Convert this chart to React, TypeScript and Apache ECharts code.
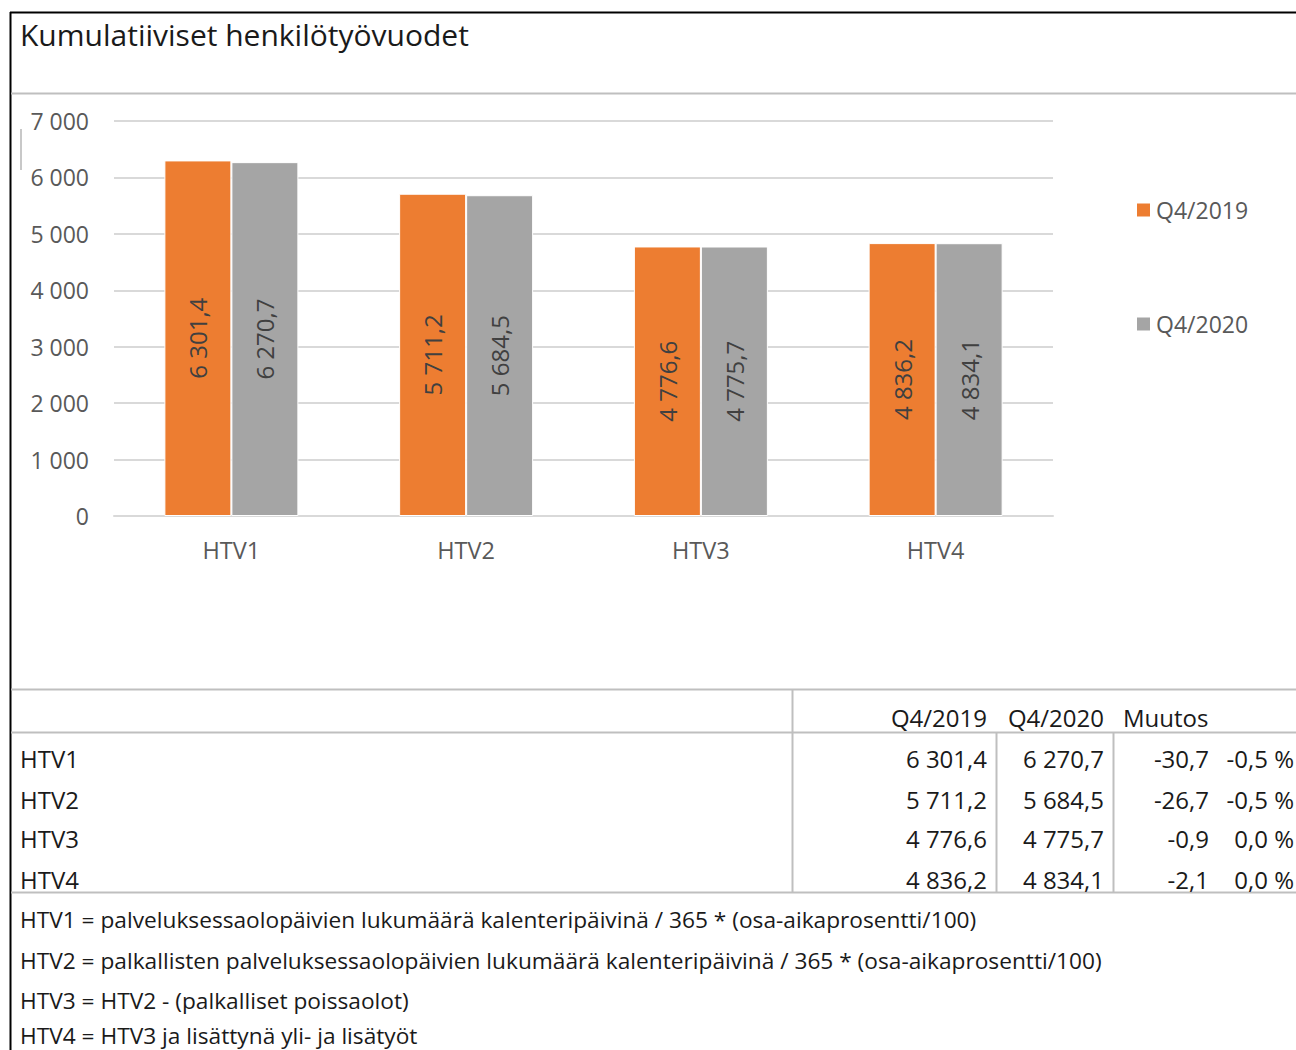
import React, { useEffect, useRef } from "react";
import * as echarts from "echarts";

const categories = ["HTV1", "HTV2", "HTV3", "HTV4"];
const seriesNames = ["Q4/2019", "Q4/2020"];
const values2019 = [6301.4, 5711.2, 4776.6, 4836.2];
const values2020 = [6270.7, 5684.5, 4775.7, 4834.1];
const yTicks = { min: 0, max: 7000, interval: 1000 };
const footnotes = [
  "HTV1 = palveluksessaolopäivien lukumäärä kalenteripäivinä / 365 * (osa-aikaprosentti/100)",
  "HTV2 = palkallisten palveluksessaolopäivien lukumäärä kalenteripäivinä / 365 * (osa-aikaprosentti/100)",
  "HTV3 = HTV2 - (palkalliset poissaolot)",
  "HTV4 = HTV3 ja lisättynä yli- ja lisätyöt",
];
const title = "Kumulatiiviset henkilötyövuodet";
const changeHeader = "Muutos";

const ORANGE = "#ED7D31";
const GRAY = "#A5A5A5";
const FONT = "'Open Sans', 'Noto Sans', sans-serif";
const LINE = "#BFBFBF";

// Finnish number style: space as thousands separator, comma as decimal mark
function fmt(v: number, digits = 1): string {
  let r = Math.round(v * Math.pow(10, digits)) / Math.pow(10, digits);
  if (Object.is(r, -0) || r === 0) r = 0;
  const s = r.toFixed(digits);
  const [intPart, dec] = s.split(".");
  const neg = intPart.startsWith("-");
  const digitsOnly = neg ? intPart.slice(1) : intPart;
  const grouped = digitsOnly.replace(/\B(?=(\d{3})+(?!\d))/g, " ");
  return (neg ? "-" : "") + grouped + (dec !== undefined ? "," + dec : "");
}

function hline(x1: number, x2: number, y: number, color: string, w: number) {
  return { type: "line", shape: { x1, y1: y, x2, y2: y }, style: { stroke: color, lineWidth: w }, silent: true };
}
function vline(x: number, y1: number, y2: number, color: string, w: number) {
  return { type: "line", shape: { x1: x, y1, x2: x, y2 }, style: { stroke: color, lineWidth: w }, silent: true };
}
function txt(x: number, y: number, text: string, align: string, size = 24, color = "#1A1A1A") {
  return {
    type: "text",
    x,
    y,
    silent: true,
    style: { text, fill: color, font: `${size}px ${FONT}`, align, verticalAlign: "middle" },
  };
}

export default function App() {
  const ref = useRef<HTMLDivElement>(null);

  useEffect(() => {
    if (!ref.current) return;
    const chart = echarts.init(ref.current, null, { renderer: "svg" });

    const graphics: any[] = [];
    // outer frame
    graphics.push(hline(10, 1296, 12.5, "#000", 2));
    graphics.push(vline(10.5, 12, 1050, "#000", 2));
    // title and divider
    graphics.push(txt(20, 34, title, "left", 30, "#1A1A1A"));
    graphics.push(hline(11, 1296, 93.5, LINE, 2));
    graphics.push(vline(21, 129, 170, "#C8C8C8", 2));

    // summary table
    const rowY = [758, 799, 838, 879];
    graphics.push(hline(11, 1296, 689.5, LINE, 2));
    graphics.push(hline(11, 1296, 732.5, LINE, 2));
    graphics.push(hline(11, 1296, 892.5, LINE, 2));
    graphics.push(vline(792.5, 689, 892, LINE, 2));
    graphics.push(vline(996.5, 732, 892, LINE, 2));
    graphics.push(vline(1113.5, 732, 892, LINE, 2));
    graphics.push(txt(987, 717, seriesNames[0], "right"));
    graphics.push(txt(1104, 717, seriesNames[1], "right"));
    graphics.push(txt(1123, 717, changeHeader, "left"));
    categories.forEach((c, i) => {
      const a = values2019[i];
      const b = values2020[i];
      const diff = b - a;
      const pct = (diff / a) * 100;
      graphics.push(txt(20, rowY[i], c, "left"));
      graphics.push(txt(987, rowY[i], fmt(a), "right"));
      graphics.push(txt(1104, rowY[i], fmt(b), "right"));
      graphics.push(txt(1209, rowY[i], fmt(diff), "right"));
      graphics.push(txt(1294, rowY[i], fmt(pct) + " %", "right"));
    });

    // definitions below the table
    const noteY = [919, 960, 1000, 1035];
    footnotes.forEach((f, i) => graphics.push(txt(20, noteY[i], f, "left", 22.7)));

    const barLabel = {
      show: true,
      position: "inside",
      rotate: 90,
      color: "#404040",
      fontSize: 24,
      fontFamily: FONT,
      formatter: (p: any) => fmt(p.value),
    };

    chart.setOption({
      animation: false,
      backgroundColor: "#fff",
      textStyle: { fontFamily: FONT },
      grid: { left: 114, right: 243, top: 121, bottom: 534, containLabel: false },
      legend: {
        orient: "vertical",
        left: 1135,
        top: 198,
        padding: 0,
        itemWidth: 15,
        itemHeight: 15,
        itemGap: 90,
        icon: "rect",
        textStyle: { fontSize: 23, color: "#595959", fontFamily: FONT, lineHeight: 24 },
        data: seriesNames,
      },
      xAxis: {
        type: "category",
        data: categories,
        axisLine: { show: true, lineStyle: { color: "#D9D9D9", width: 2 } },
        axisTick: { show: false },
        axisLabel: { color: "#595959", fontSize: 23.5, fontFamily: FONT, margin: 22 },
      },
      yAxis: {
        type: "value",
        min: yTicks.min,
        max: yTicks.max,
        interval: yTicks.interval,
        axisLine: { show: false },
        axisTick: { show: false },
        splitLine: { lineStyle: { color: "#D9D9D9", width: 2 } },
        axisLabel: {
          color: "#595959",
          fontSize: 23,
          fontFamily: FONT,
          margin: 25,
          formatter: (v: number) => fmt(v, 0),
        },
      },
      series: [
        {
          name: seriesNames[0],
          type: "bar",
          data: values2019,
          barWidth: 67,
          barGap: "0%",
          itemStyle: { color: ORANGE, borderColor: "#fff", borderWidth: 1 },
          label: barLabel,
        },
        {
          name: seriesNames[1],
          type: "bar",
          data: values2020,
          barWidth: 67,
          barGap: "0%",
          itemStyle: { color: GRAY, borderColor: "#fff", borderWidth: 1 },
          label: barLabel,
        },
      ],
      graphic: graphics,
    });

    return () => chart.dispose();
  }, []);

  return (
    <div
      ref={ref}
      style={{ position: "absolute", left: 0, top: 0, width: 1296, height: 1050, background: "#fff" }}
    />
  );
}
